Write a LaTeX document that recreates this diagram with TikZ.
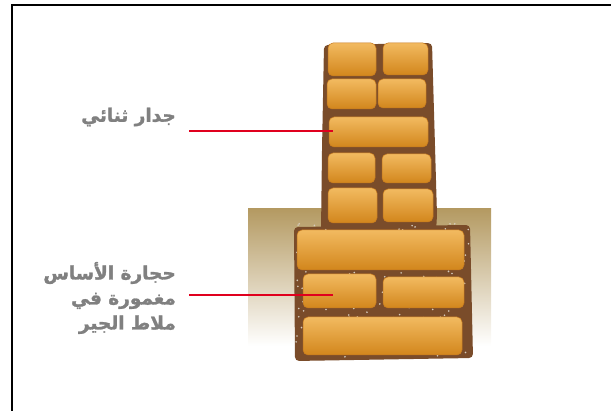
\documentclass[tikz,border=0pt]{standalone}
\usepackage{fontspec}
\usepackage{tikz}
\usetikzlibrary{positioning}
\newfontfamily\arabicfont[Script=Arabic, BoldFeatures={FakeBold=1.5}]{DejaVu Sans}
\TeXXeTstate=1

\definecolor{mortar}{RGB}{122,76,42}
\definecolor{bricktop}{RGB}{242,186,96}
\definecolor{brickbot}{RGB}{210,134,28}
\definecolor{brickedge}{RGB}{196,120,30}
\definecolor{groundtop}{RGB}{180,154,98}
\definecolor{groundmid}{RGB}{230,220,166}
\definecolor{speck}{RGB}{214,204,190}
\definecolor{labelgray}{RGB}{128,128,128}
\definecolor{pointer}{RGB}{224,0,30}

\tikzset{
  brick/.style={top color=bricktop, bottom color=brickbot, draw=brickedge,
    line width=0.5pt, rounded corners=5pt},
  label/.style={text=labelgray, font=\arabicfont\bfseries\fontsize{18.5}{25}\selectfont,
    align=right, anchor=east, inner sep=0pt},
  pointer/.style={draw=pointer, line width=2.8pt}
}
\newcommand{\brick}[4]{\shade[brick] (#1,#2) rectangle (#3,#4);}

\begin{document}
\begin{tikzpicture}[x=1pt, y=-1pt]
    \useasboundingbox (0,0) rectangle (611,411);

    % Frame
    \draw[line width=2pt] (12,411) -- (12,5) -- (611,5);

    % Ground
    \shade[top color=groundtop, middle color=groundmid, bottom color=white]
        (248,209) rectangle (491,346);

    % Mortar
    \fill[mortar, rounded corners=4pt] (324,45) -- (432,43) -- (437,215)
        -- (436,232) -- (321,232) -- (322,150) -- cycle;
    \fill[mortar, rounded corners=4pt] (294,227) -- (470,225) -- (473,358)
        -- (295,361) -- cycle;

    % Lime specks in the foundation
    \pgfmathsetseed{11}
    \foreach \i in {1,...,170} {
        \pgfmathsetmacro\px{296+174*rnd}
        \pgfmathsetmacro\py{223+136*rnd}
        \fill[speck] (\px,\py) circle (0.9);
    }

    % Upper wall
    \brick{328}{43}{376}{76}
    \brick{383}{43}{428}{75}
    \brick{327}{79}{376}{109}
    \brick{378}{79}{426}{108}
    \brick{329}{117}{428}{147}
    \brick{328}{153}{375}{183}
    \brick{382}{154}{431}{183}
    \brick{328}{188}{377}{223}
    \brick{383}{189}{433}{222}

    % Foundation
    \brick{297}{230}{464}{270}
    \brick{303}{274}{376}{308}
    \brick{383}{277}{464}{308}
    \brick{303}{317}{462}{355}

    % Labels
    \node[label] (wall) at (176,117) {\beginR جدار ثنائي\endR};
    \node[label] (footing) at (176,298) {\beginR حجارة الأساس\endR\\
        \beginR مغمورة في\endR\\ \beginR ملاط الجير\endR};

    % Pointers
    \coordinate (wallEnd) at (189,131);
    \coordinate (wallTip) at (333,131);
    \coordinate (footingEnd) at (189,295);
    \coordinate (footingTip) at (333,295);
    \draw[pointer] (wallEnd) -- (wallTip);
    \draw[pointer] (footingEnd) -- (footingTip);
\end{tikzpicture}
\end{document}
